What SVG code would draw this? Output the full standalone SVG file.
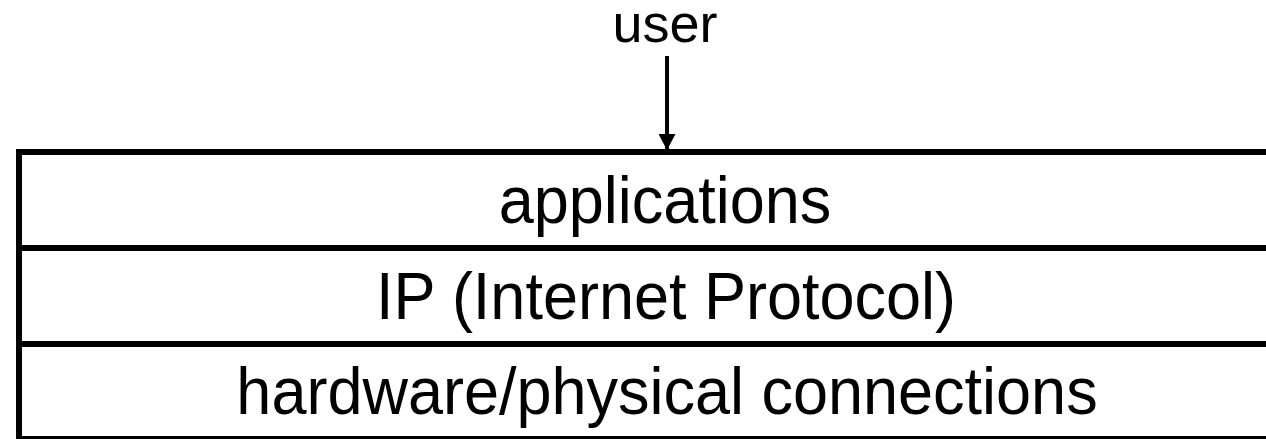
<svg xmlns="http://www.w3.org/2000/svg" width="1266" height="439" viewBox="0 0 1266 439">
<style>
.lbl{font-family:"Liberation Sans",Arial,sans-serif;fill:#000;text-anchor:middle}
.row{font-size:63px}
.ln{stroke:#000;stroke-width:6;fill:none}
</style>
<defs>
<marker id="ah" markerWidth="16" markerHeight="17" refX="15" refY="8.5" orient="auto" markerUnits="userSpaceOnUse">
<path d="M0,0 L16,8.5 L0,17 Z" fill="#000"/>
</marker>
</defs>
<rect width="1266" height="439" fill="#fff"/>
<g id="user">
<text class="lbl" x="665" y="42" font-size="54">user</text>
</g>
<g id="applications">
<path class="ln" d="M1266,152 H19 V248 H1266"/>
<text class="lbl row" transform="translate(665,223) scale(1,1.05)">applications</text>
</g>
<g id="ip">
<path class="ln" d="M19,248 V344 H1266"/>
<text class="lbl row" transform="translate(666,319) scale(1,1.05)">IP (Internet Protocol)</text>
</g>
<g id="hardware">
<path class="ln" d="M19,344 V442 M16,439 H1266"/>
<text class="lbl row" transform="translate(667,414) scale(1,1.05)">hardware/physical connections</text>
</g>
<g id="connectors">
<line x1="667" y1="56" x2="667" y2="149" stroke="#000" stroke-width="4" marker-end="url(#ah)"/>
</g>
</svg>
